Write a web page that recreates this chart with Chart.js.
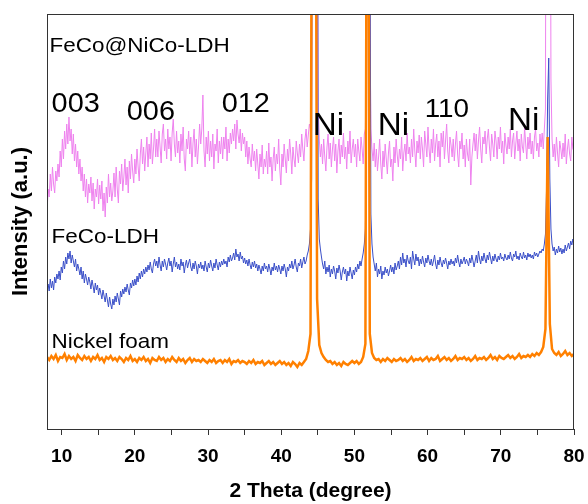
<!DOCTYPE html>
<html>
<head>
<meta charset="utf-8">
<script src="https://cdn.jsdelivr.net/npm/chart.js@4/dist/chart.umd.min.js"></script>
<style>
  html, body { margin: 0; padding: 0; background: #fff; }
  #wrap { width: 588px; height: 504px; }
</style>
</head>
<body>
<div id="wrap"><canvas id="xrd"></canvas></div>
<script>
// XRD scans start at 2 theta = 8 deg (arbitrary intensity units)
const scanStart = 8;
const coarseStep = 0.3;  // nickel foam
const fineStep = 0.15;   // FeCo-LDH, FeCo@NiCo-LDH

const nickelFoam = [
  72, 69, 73, 70, 74, 68, 72, 71, 75, 69,
  73, 70, 72, 68, 74, 71, 69, 73, 70, 72,
  68, 72, 70, 74, 69, 71, 67, 72, 70, 73,
  69, 71, 68, 72, 70, 67, 71, 69, 73, 68,
  70, 67, 71, 69, 72, 68, 70, 66, 71, 69,
  68, 72, 69, 71, 67, 70, 68, 72, 69, 67,
  71, 68, 70, 66, 69, 71, 67, 70, 68, 69,
  67, 70, 68, 66, 69, 67, 70, 66, 68, 69,
  66, 69, 67, 70, 65, 68, 67, 69, 66, 68,
  67, 65, 68, 66, 69, 65, 67, 66, 68, 64,
  66, 68, 65, 67, 64, 66, 68, 65, 67, 64,
  66, 63, 67, 65, 62, 66, 64, 67, 70, 78,
  95, 900, 900, 130, 84, 76, 72, 69, 67, 68,
  65, 67, 64, 66, 63, 67, 65, 64, 66, 68,
  66, 68, 65, 67, 72, 85, 900, 95, 76, 71,
  69, 70, 67, 70, 68, 71, 69, 67, 70, 68,
  69, 71, 68, 70, 67, 69, 72, 68, 70, 69,
  71, 68, 70, 72, 68, 71, 69, 70, 73, 68,
  70, 72, 69, 71, 68, 70, 73, 69, 71, 70,
  72, 69, 71, 68, 70, 73, 69, 71, 70, 72,
  69, 71, 74, 70, 72, 69, 73, 71, 70, 72,
  74, 71, 73, 70, 72, 75, 71, 73, 72, 74,
  72, 75, 73, 76, 74, 77, 82, 100, 292, 105,
  80, 76, 74, 77, 73, 75, 78, 74, 76, 73,
  75
];

const fecoLdh = [
  132, 145, 138, 150, 141, 148, 139, 152, 146, 155,
  150, 158, 149, 162, 156, 168, 160, 172, 165, 176,
  170, 178, 166, 174, 168, 162, 170, 158, 165, 160,
  154, 162, 150, 158, 146, 155, 150, 144, 152, 147,
  140, 149, 143, 136, 146, 139, 144, 134, 141, 136,
  130, 139, 133, 127, 136, 129, 122, 132, 125, 120,
  130, 124, 133, 127, 136, 130, 124, 138, 132, 140,
  135, 142, 137, 145, 139, 134, 146, 141, 149, 143,
  150, 144, 153, 147, 156, 150, 158, 152, 160, 155,
  162, 157, 164, 159, 167, 160, 156, 165, 170, 163,
  168, 161, 172, 164, 158, 168, 162, 170, 165, 159,
  166, 171, 163, 168, 157, 165, 172, 162, 167, 160,
  165, 159, 170, 163, 167, 156, 164, 169, 161, 166,
  170, 162, 158, 166, 160, 168, 163, 155, 165, 161,
  167, 160, 164, 158, 168, 162, 157, 166, 161, 169,
  163, 158, 166, 161, 170, 164, 159, 167, 162, 168,
  164, 170, 165, 168, 162, 172, 167, 174, 168, 171,
  176, 169, 180, 172, 175, 168, 177, 170, 173, 166,
  171, 165, 169, 163, 170, 164, 160, 167, 162, 168,
  161, 165, 158, 164, 160, 155, 163, 158, 166, 160,
  163, 157, 165, 160, 154, 162, 158, 166, 159, 163,
  157, 164, 160, 155, 163, 158, 165, 160, 152, 162,
  158, 165, 161, 168, 160, 164, 170, 162, 157, 166,
  163, 170, 161, 167, 172, 165, 168, 174, 178, 185,
  200, 250, 900, 900, 900, 900, 900, 230, 190, 180,
  172, 165, 160, 168, 155, 162, 157, 164, 152, 160,
  155, 163, 158, 150, 161, 156, 164, 158, 149, 157,
  162, 155, 160, 148, 158, 153, 162, 156, 150, 159,
  154, 162, 157, 165, 160, 168, 163, 170, 176, 185,
  200, 300, 900, 900, 600, 215, 185, 172, 165, 158,
  166, 152, 160, 155, 163, 150, 158, 154, 162, 156,
  160, 153, 158, 164, 157, 162, 155, 166, 159, 163,
  168, 160, 172, 164, 176, 166, 170, 162, 174, 168,
  165, 172, 160, 178, 170, 164, 175, 168, 172, 163,
  170, 165, 173, 167, 162, 171, 166, 174, 168, 164,
  170, 163, 168, 174, 165, 160, 169, 164, 172, 166,
  162, 169, 165, 171, 166, 160, 168, 164, 170, 165,
  168, 163, 171, 166, 174, 167, 162, 170, 165, 168,
  172, 165, 170, 167, 163, 171, 166, 174, 168, 162,
  168, 174, 166, 178, 170, 165, 173, 168, 176, 170,
  166, 174, 169, 177, 171, 165, 173, 168, 175, 170,
  167, 173, 169, 176, 170, 172, 168, 175, 171, 169,
  174, 170, 177, 171, 168, 175, 172, 178, 170, 173,
  169, 176, 172, 170, 177, 171, 174, 169, 176, 172,
  175, 171, 174, 170, 177, 173, 176, 172, 175, 178,
  176, 180, 178, 185, 195, 240, 330, 371, 250, 200,
  185, 178, 182, 174, 180, 176, 183, 177, 181, 175,
  180, 176, 184, 178, 182, 186, 180, 188, 184, 190,
  186
];

const fecoNicoLdh = [
  215, 240, 232, 255, 238, 262, 245, 236, 258, 248,
  265, 252, 278, 262, 290, 270, 298, 280, 305, 285,
  312, 288, 300, 275, 295, 268, 285, 262, 278, 255,
  270, 248, 262, 238, 255, 232, 250, 226, 245, 236,
  252, 228, 246, 220, 240, 232, 250, 225, 244, 230,
  248, 218, 236, 212, 242, 226, 255, 232, 246, 228,
  238, 256, 232, 262, 240, 226, 258, 245, 265, 238,
  252, 270, 244, 262, 236, 268, 250, 275, 258, 246,
  270, 255, 280, 262, 248, 275, 290, 265, 282, 258,
  276, 292, 262, 285, 270, 296, 265, 280, 300, 272,
  290, 272, 298, 282, 266, 295, 305, 278, 290, 270,
  300, 280, 292, 268, 296, 310, 285, 272, 298, 276,
  288, 266, 295, 278, 302, 270, 258, 290, 280, 298,
  275, 292, 262, 286, 300, 272, 290, 265, 282, 305,
  285, 300, 334, 278, 262, 292, 275, 298, 268, 288,
  272, 295, 260, 285, 278, 300, 266, 288, 275, 292,
  270, 292, 280, 302, 268, 290, 276, 296, 285, 300,
  288, 305, 280, 309, 295, 286, 300, 278, 296, 285,
  292, 272, 288, 265, 282, 270, 262, 285, 268, 278,
  258, 280, 265, 250, 275, 262, 284, 255, 270, 262,
  278, 255, 286, 262, 272, 248, 270, 282, 258, 275,
  265, 290, 260, 244, 275, 262, 285, 270, 256, 280,
  268, 290, 275, 255, 282, 270, 262, 288, 276, 266,
  285, 272, 295, 280, 268, 290, 300, 282, 294, 305,
  300, 330, 900, 900, 900, 900, 600, 320, 290, 272,
  285, 265, 290, 272, 258, 282, 295, 270, 286, 262,
  280, 292, 268, 285, 256, 278, 290, 265, 284, 272,
  296, 270, 282, 260, 288, 275, 298, 266, 280, 290,
  272, 285, 262, 290, 278, 268, 292, 280, 265, 295,
  300, 420, 900, 900, 430, 300, 280, 268, 286, 262,
  280, 258, 272, 290, 265, 250, 278, 262, 285, 270,
  255, 276, 288, 262, 270, 248, 282, 266, 290, 274,
  262, 280, 270, 292, 258, 276, 285, 268, 296, 275,
  282, 266, 290, 272, 300, 278, 262, 288, 276, 294,
  270, 292, 280, 262, 298, 285, 272, 302, 280, 266,
  290, 276, 300, 268, 285, 295, 272, 288, 262, 296,
  282, 298, 270, 288, 305, 278, 266, 292, 284, 272,
  290, 268, 285, 298, 275, 262, 288, 280, 296, 270,
  284, 262, 290, 275, 268, 290, 244, 272, 285, 296,
  278, 295, 270, 288, 302, 280, 266, 292, 285, 298,
  275, 290, 300, 282, 268, 295, 285, 272, 298, 288,
  270, 292, 280, 302, 276, 288, 265, 296, 284, 275,
  292, 280, 300, 272, 288, 296, 270, 285, 298, 278,
  290, 268, 295, 282, 276, 302, 285, 270, 292, 280,
  296, 275, 288, 270, 292, 300, 278, 286, 272, 295,
  282, 296, 280, 300, 320, 900, 900, 900, 900, 350,
  290, 272, 285, 268, 292, 276, 262, 288, 280, 270,
  286, 272, 295, 265, 280, 290, 275, 268, 292, 280,
  278
];

const xTickValues = [10, 15, 20, 25, 30, 35, 40, 45, 50, 55, 60, 65, 70, 75, 80];

// text written inside the plot (x in degrees, y in intensity units)
const noteText = ['FeCo@NiCo-LDH', '003', '006', '012', 'Ni', 'Ni', '110', 'Ni', 'FeCo-LDH', 'Nickel foam'];
const noteX = [8.35, 8.63, 18.9, 31.87, 44.3, 53.2, 59.6, 70.98, 8.63, 8.63];
const noteY = [377, 317, 309, 317, 294, 294, 312, 299, 186, 81];
const noteSize = [21, 27, 27, 27, 31, 31, 26, 31, 21, 21];

const FONT = "Arial, 'Liberation Sans', sans-serif";

function toPoints(counts, step) {
  return counts.map((c, i) => ({ x: +(scanStart + step * i).toFixed(2), y: c }));
}

const framePlugin = {
  id: 'frame',
  afterDraw(chart) {
    const { ctx, chartArea: a, scales } = chart;
    ctx.save();
    ctx.strokeStyle = '#333';
    ctx.lineWidth = 1;
    ctx.strokeRect(a.left + 0.5, a.top + 0.5, a.right - a.left - 1, a.bottom - a.top);
    ctx.fillStyle = '#000';
    ctx.textBaseline = 'alphabetic';
    ctx.textAlign = 'left';
    noteText.forEach((t, i) => {
      ctx.save();
      ctx.translate(scales.x.getPixelForValue(noteX[i]), scales.y.getPixelForValue(noteY[i]));
      ctx.scale(1.07, 1);  // source figure is a little stretched sideways
      ctx.font = noteSize[i] + 'px ' + FONT;
      ctx.fillText(t, 0, 0);
      ctx.restore();
    });
    ctx.restore();
  }
};

new Chart(document.getElementById('xrd'), {
  type: 'line',
  data: {
    datasets: [
      {
        label: 'Nickel foam',
        data: toPoints(nickelFoam, coarseStep),
        borderColor: '#ff8000',
        borderWidth: 2.5,
        pointRadius: 0
      },
      {
        label: 'FeCo-LDH',
        data: toPoints(fecoLdh, fineStep),
        borderColor: '#3a4fc8',
        borderWidth: 1,
        pointRadius: 0
      },
      {
        label: 'FeCo@NiCo-LDH',
        data: toPoints(fecoNicoLdh, fineStep),
        borderColor: '#ee82ee',
        borderWidth: 1,
        pointRadius: 0
      }
    ]
  },
  options: {
    responsive: true,
    maintainAspectRatio: false,
    animation: false,
    layout: { padding: { top: 14, right: 14, left: 0, bottom: 0 } },
    plugins: {
      legend: { display: false },
      tooltip: { enabled: false }
    },
    scales: {
      x: {
        type: 'linear',
        min: 8,
        max: 80,
        afterBuildTicks: s => { s.ticks = xTickValues.map(v => ({ value: v })); },
        afterFit: s => { s.height = 75; s.paddingLeft = 0; s.paddingRight = 0; },
        ticks: {
          autoSkip: false,
          maxRotation: 0,
          color: '#000',
          padding: 10,
          font: { family: FONT, size: 19, weight: 'bold' },
          callback: v => (v % 10 === 0 ? String(v) : '')
        },
        grid: { drawOnChartArea: false, drawTicks: true, tickLength: 6, color: '#333' },
        border: { display: true, color: '#333' },
        title: {
          display: true,
          text: '2 Theta (degree)',
          color: '#000',
          font: { family: FONT, size: 21, weight: 'bold' },
          padding: { top: 0, bottom: 0 }
        }
      },
      y: {
        min: 0,
        max: 415,
        afterFit: s => { s.width = 47; },
        ticks: { display: false },
        grid: { display: false },
        border: { display: true, color: '#333' },
        title: {
          display: true,
          text: 'Intensity (a.u.)',
          color: '#000',
          font: { family: FONT, size: 22, weight: 'bold' },
          padding: { top: 8, bottom: 0 }
        }
      }
    }
  },
  plugins: [framePlugin]
});
</script>
</body>
</html>
